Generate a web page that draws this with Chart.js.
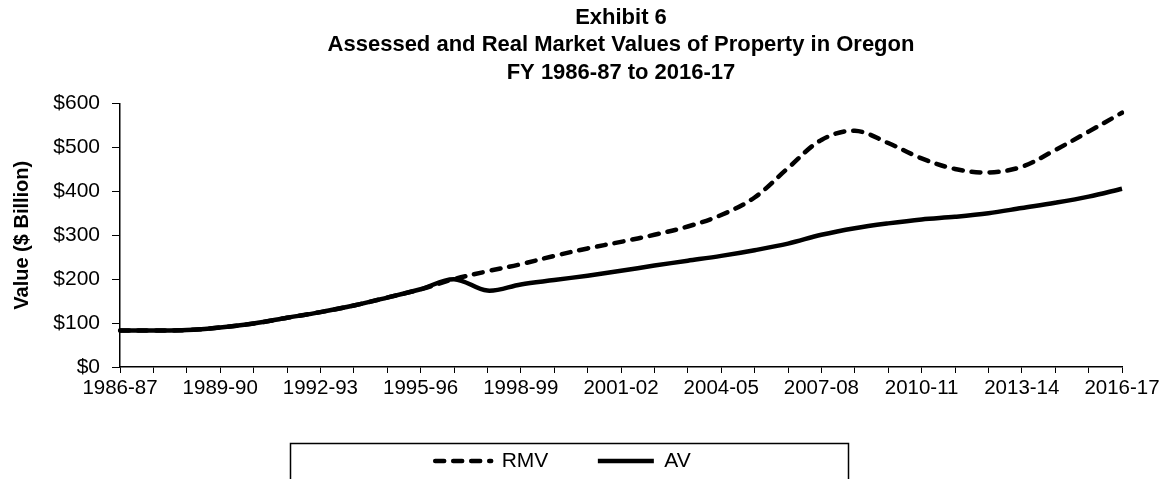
<!DOCTYPE html>
<html>
<head>
<meta charset="utf-8">
<script src="https://cdn.jsdelivr.net/npm/chart.js@4/dist/chart.umd.min.js"></script>
<style>
  body { margin: 0; background: #fff; }
</style>
</head>
<body>
<canvas id="chart" width="1164" height="479"></canvas>
<script>
// fiscal years on the x axis
const years = [
  '1986-87', '1987-88', '1988-89', '1989-90', '1990-91', '1991-92', '1992-93',
  '1993-94', '1994-95', '1995-96', '1996-97', '1997-98', '1998-99', '1999-00',
  '2000-01', '2001-02', '2002-03', '2003-04', '2004-05', '2005-06', '2006-07',
  '2007-08', '2008-09', '2009-10', '2010-11', '2011-12', '2012-13', '2013-14',
  '2014-15', '2015-16', '2016-17'
];

// $ billion
const rmv = [83, 83, 84, 90, 99, 112, 125, 140, 158, 177, 200, 218, 234, 253, 270, 285,
  301, 320, 346, 386, 453, 517, 538, 510, 475, 451, 443, 456, 494, 536, 579];
const av = [83, 83, 84, 90, 99, 112, 125, 140, 158, 177, 200, 174, 188, 198, 208, 219,
  231, 242, 253, 266, 281, 301, 316, 327, 336, 342, 350, 362, 374, 388, 406];

const yTicks = [0, 100, 200, 300, 400, 500, 600];

const font = 'Liberation Sans, Arial, sans-serif';

// box round the legend, like the one in the report
const legendFrame = {
  id: 'legendFrame',
  afterDraw(chart) {
    const ctx = chart.ctx;
    ctx.save();
    ctx.strokeStyle = '#000';
    ctx.lineWidth = 1.5;
    ctx.strokeRect(290.5, 443.5, 558, 60);
    ctx.restore();
  }
};

new Chart(document.getElementById('chart'), {
  type: 'line',
  data: {
    labels: years,
    datasets: [{
      label: 'RMV',
      data: rmv,
      borderColor: '#000',
      borderWidth: 4.5,
      borderDash: [9, 9],
      borderCapStyle: 'round',
      pointRadius: 0,
      tension: 0.35,
      fill: false
    }, {
      label: 'AV',
      data: av,
      borderColor: '#000',
      borderWidth: 4.5,
      pointRadius: 0,
      tension: 0.35,
      fill: false
    }]
  },
  options: {
    responsive: false,
    animation: false,
    layout: { padding: { left: 4, right: 42, top: 0, bottom: 0 } },
    plugins: {
      title: {
        display: true,
        fullSize: false,
        text: ['Exhibit 6', 'Assessed and Real Market Values of Property in Oregon', 'FY 1986-87 to 2016-17'],
        color: '#000',
        font: { family: font, size: 22, weight: 'bold', lineHeight: 1.25 },
        padding: { top: 4, bottom: 17 }
      },
      legend: {
        position: 'bottom',
        maxHeight: 78,
        labels: {
          usePointStyle: true,
          pointStyle: 'line',
          pointStyleWidth: 56,
          color: '#000',
          padding: 49.5,
          font: { family: font, size: 21 },
          generateLabels(chart) {
            const items = Chart.defaults.plugins.legend.labels.generateLabels(chart);
            items.forEach(it => {
              const ds = chart.data.datasets[it.datasetIndex];
              it.lineDash = ds.borderDash || [];
              it.lineCap = ds.borderCapStyle || 'butt';
              it.lineWidth = ds.borderWidth;
              it.strokeStyle = ds.borderColor;
            });
            return items;
          }
        }
      },
      tooltip: { enabled: false }
    },
    scales: {
      x: {
        grid: { drawOnChartArea: false, color: '#000', tickLength: 6, lineWidth: 1 },
        border: { color: '#000', width: 1.5 },
        ticks: {
          autoSkip: false,
          maxRotation: 0,
          color: '#000',
          padding: 3,
          font: { family: font, size: 20.5 },
          callback: (v, i) => (i % 3 === 0 ? years[i] : '')
        },
        afterFit: s => { s.height = 34; }
      },
      y: {
        min: 0,
        max: 600,
        afterBuildTicks: s => { s.ticks = yTicks.map(v => ({ value: v })); },
        afterFit: s => { s.width = 116; },
        grid: { drawOnChartArea: false, color: '#000', tickLength: 8 },
        border: { color: '#000', width: 1.5 },
        ticks: {
          color: '#000',
          padding: 12,
          font: { family: font, size: 21 },
          callback: v => '$' + v
        },
        title: {
          display: true,
          text: 'Value ($ Billion)',
          color: '#000',
          font: { family: font, size: 20, weight: 'bold' },
          padding: { top: 6.5, bottom: 10 }
        }
      }
    }
  },
  plugins: [legendFrame]
});
</script>
</body>
</html>
